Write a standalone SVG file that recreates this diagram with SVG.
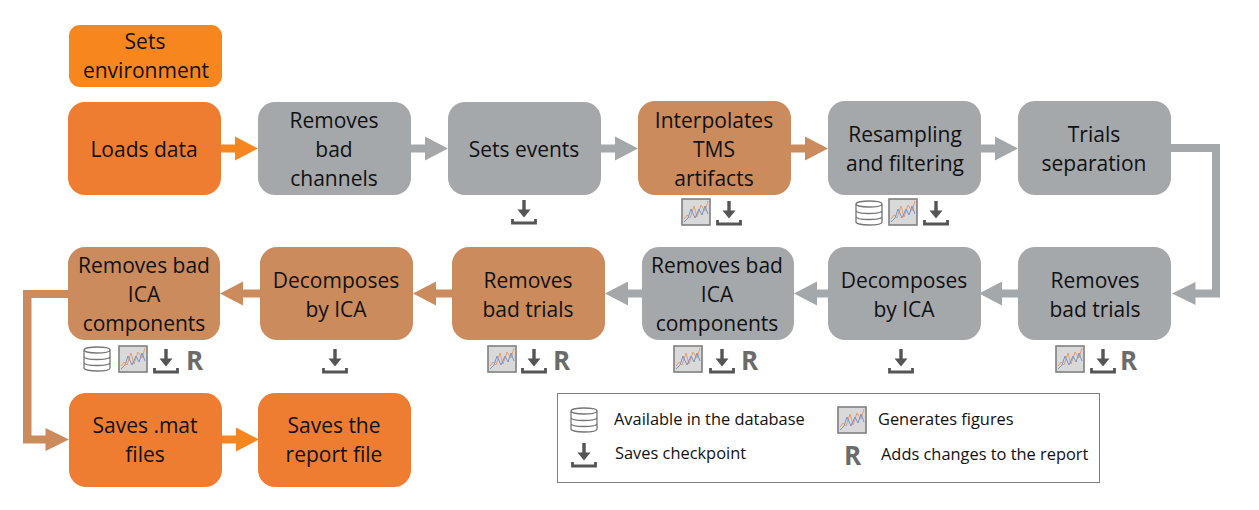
<svg xmlns="http://www.w3.org/2000/svg" xmlns:xlink="http://www.w3.org/1999/xlink" width="1259" height="510" viewBox="0 0 1259 510">
<style>
text{font-family:"Open Sans","Noto Sans","Liberation Sans",sans-serif;fill:#111}
.n text{font-size:21px;text-anchor:middle;transform:translateY(.7px)}
.l text{font-size:16.4px}
.o{fill:#EE7D31}.y{fill:#F8861F}.g{fill:#A5A8AA}.b{fill:#CB8B5D}
.n text.r,.l text.r{font-size:26px;font-weight:700;fill:#6b6b6b;text-anchor:start;transform:none}
.so{fill:#F8861F}
</style>
<defs>
<symbol id="db" viewBox="0 0 28 28" width="28" height="28" overflow="visible">
<path d="M1 5C1 1 27 1 27 5V23C27 27 1 27 1 23ZM1 5C1 9 27 9 27 5M1 11.500C1 15.500 27 15.500 27 11.500M1 17.500C1 21.500 27 21.500 27 17.500" fill="#fff" stroke="#777" stroke-width="1.300"/>
</symbol>
<symbol id="fig" viewBox="0 0 30 28" width="30" height="28" overflow="visible">
<rect x="1" y="1" width="28" height="26" fill="#D9D9D9" stroke="#7f7f7f" stroke-width="1.600"/>
<path d="M3 21L6 17L9 20L13 8L16 19L20 7L24 13L27 3" fill="none" stroke="#ED9B63" stroke-width="1"/>
<path d="M3 24L7 20L10 11L14 20L18 11L21 17L24 8L27 16" fill="none" stroke="#6F94D6" stroke-width="1"/>
</symbol>
<symbol id="save" viewBox="0 0 26 26" width="26" height="26" overflow="visible">
<path d="M11.300 1h3.400v9.500h4.800l-6.500 8l-6.500-8h4.800Z" fill="#555"/>
<path d="M1.500 20v4h23v-4" fill="none" stroke="#555" stroke-width="2.800"/>
</symbol>
</defs>

<g id="connectors">
<path class="so" d="M221 144.500H235V136.500L258 148.500L235 160.500V152.500H221Z"/>
<path class="g" d="M411 144.500H425V136.500L448 148.500L425 160.500V152.500H411Z"/>
<path class="g" d="M601 144.500H615V136.500L638 148.500L615 160.500V152.500H601Z"/>
<path class="b" d="M791 144.500H805V136.500L828 148.500L805 160.500V152.500H791Z"/>
<path class="g" d="M981 144.500H995V136.500L1018 148.500L995 160.500V152.500H981Z"/>
<path class="g" d="M1171 144H1220V297.500H1195.500V305L1172 293.500L1195.500 282V289.500H1212V152H1171Z"/>
<path class="g" d="M1018 289.500H1002V281.500L979 293.500L1002 305.500V297.500H1018Z"/>
<path class="g" d="M828 289.500H817V281.500L794 293.500L817 305.500V297.500H828Z"/>
<path class="g" d="M642 289.500H628V281.500L605 293.500L628 305.500V297.500H642Z"/>
<path class="b" d="M452 289.500H436V281.500L413 293.500L436 305.500V297.500H452Z"/>
<path class="b" d="M260 289.500H243V281.500L220 293.500L243 305.500V297.500H260Z"/>
<path class="b" d="M68 290H23V443.500H45.500V451L69 439.500L45.500 428V435.500H31.500V298H68Z"/>
<path class="so" d="M222 435.500H236V427.500L259 439.500L236 451.500V443.500H222Z"/>
</g>

<g class="n">
<g id="sets-environment"><rect class="y" x="69" y="25" width="153" height="62" rx="11"/><text x="145" y="48">Sets</text><text x="146" y="77">environment</text></g>
<g id="loads-data"><rect class="o" x="68" y="102" width="153" height="93" rx="17"/><text x="144" y="156">Loads data</text></g>
<g id="removes-bad-channels"><rect class="g" x="258" y="102" width="153" height="93" rx="17"/><text x="334" y="127">Removes</text><text x="334" y="156">bad</text><text x="334" y="185">channels</text></g>
<g id="sets-events"><rect class="g" x="448" y="102" width="153" height="93" rx="17"/><text x="524" y="156">Sets events</text>
<use xlink:href="#save" href="#save" x="511" y="199"/></g>
<g id="interpolates"><rect class="b" x="638" y="101" width="153" height="94" rx="17"/><text x="714" y="127">Interpolates</text><text x="714" y="156">TMS</text><text x="714" y="185">artifacts</text>
<use xlink:href="#fig" href="#fig" x="681" y="198"/><use xlink:href="#save" href="#save" x="716" y="200"/></g>
<g id="resampling"><rect class="g" x="828" y="101" width="153" height="94" rx="17"/><text x="905" y="141">Resampling</text><text x="905" y="170">and filtering</text>
<use xlink:href="#db" href="#db" x="855" y="199"/><use xlink:href="#fig" href="#fig" x="888" y="198"/><use xlink:href="#save" href="#save" x="923" y="200"/></g>
<g id="trials-separation"><rect class="g" x="1018" y="101" width="153" height="94" rx="17"/><text x="1094" y="141">Trials</text><text x="1094" y="170">separation</text></g>

<g id="removes-bad-trials-1"><rect class="g" x="1018" y="247" width="153" height="93" rx="17"/><text x="1095" y="287">Removes</text><text x="1095" y="316">bad trials</text>
<use xlink:href="#fig" href="#fig" x="1055" y="345"/><use xlink:href="#save" href="#save" x="1090" y="348"/><text class="r" x="1120" y="370">R</text></g>
<g id="decomposes-1"><rect class="g" x="828" y="247" width="153" height="93" rx="17"/><text x="904" y="287">Decomposes</text><text x="904" y="316">by ICA</text>
<use xlink:href="#save" href="#save" x="888" y="348"/></g>
<g id="removes-ica-1"><rect class="g" x="642" y="247" width="152" height="93" rx="17"/><text x="717" y="272">Removes bad</text><text x="717" y="301">ICA</text><text x="717" y="330">components</text>
<use xlink:href="#fig" href="#fig" x="673" y="345"/><use xlink:href="#save" href="#save" x="709" y="348"/><text class="r" x="741" y="370">R</text></g>
<g id="removes-bad-trials-2"><rect class="b" x="452" y="247" width="153" height="93" rx="17"/><text x="528" y="287">Removes</text><text x="528" y="316">bad trials</text>
<use xlink:href="#fig" href="#fig" x="487" y="345"/><use xlink:href="#save" href="#save" x="521" y="348"/><text class="r" x="553" y="370">R</text></g>
<g id="decomposes-2"><rect class="b" x="260" y="247" width="153" height="93" rx="17"/><text x="336" y="287">Decomposes</text><text x="336" y="316">by ICA</text>
<use xlink:href="#save" href="#save" x="322" y="348"/></g>
<g id="removes-ica-2"><rect class="b" x="68" y="247" width="152" height="93" rx="17"/><text x="144" y="272">Removes bad</text><text x="144" y="301">ICA</text><text x="144" y="330">components</text>
<use xlink:href="#db" href="#db" x="83" y="345"/><use xlink:href="#fig" href="#fig" x="118" y="345"/><use xlink:href="#save" href="#save" x="153" y="348"/><text class="r" x="186" y="370">R</text></g>

<g id="saves-mat"><rect class="o" x="69" y="393" width="153" height="94" rx="17"/><text x="145" y="432">Saves .mat</text><text x="145" y="461">files</text></g>
<g id="saves-report"><rect class="o" x="258" y="393" width="153" height="94" rx="17"/><text x="334" y="432">Saves the</text><text x="334" y="461">report file</text></g>
</g>

<g id="legend" class="l">
<rect x="557.500" y="393.500" width="542" height="89" fill="#fff" stroke="#7f7f7f" stroke-width="1"/>
<use xlink:href="#db" href="#db" x="570" y="406"/>
<text x="614" y="425">Available in the database</text>
<use xlink:href="#fig" href="#fig" x="837" y="406"/>
<text x="878" y="425">Generates figures</text>
<use xlink:href="#save" href="#save" x="571" y="442"/>
<text x="615" y="459">Saves checkpoint</text>
<text class="r" x="844" y="465">R</text>
<text x="881" y="460">Adds changes to the report</text>
</g>
</svg>
